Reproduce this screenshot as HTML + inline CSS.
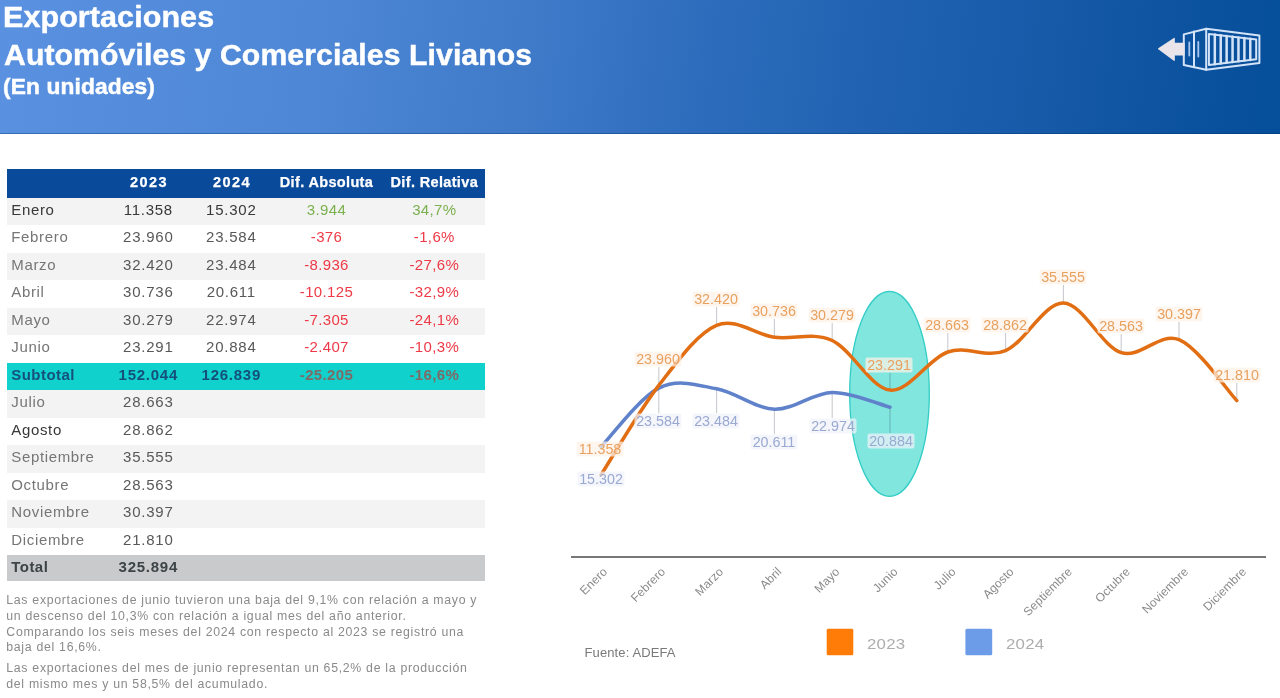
<!DOCTYPE html>
<html lang="es"><head><meta charset="utf-8"><title>Exportaciones Automóviles y Comerciales Livianos</title>
<style>
html,body{margin:0;padding:0;background:#fff}
body{width:1280px;height:698px;position:relative;overflow:hidden;font-family:"Liberation Sans",sans-serif}
.hdr{position:absolute;left:0;top:0;width:1280px;height:133.6px;background:linear-gradient(97deg,#5a91e1 0%,#4d87d5 25%,#3e7ac8 42%,#2d6cbc 55%,#2264b3 66%,#195cab 78%,#0e54a0 90%,#054e9a 100%);box-shadow:inset 0 -1px 0 rgba(0,40,100,.35)}
.t{position:absolute;left:3.2px;color:#fff;font-weight:bold;white-space:nowrap;transform-origin:0 0}
.t{-webkit-text-stroke:.45px #fff}
.t1{top:-0.5px;font-size:29px;line-height:34px;letter-spacing:.1px;transform:scaleX(1.05)}
.t2{top:38px;left:4.2px;font-size:29px;line-height:34px;letter-spacing:.1px;transform:scaleX(1.04)}
.t3{top:74px;font-size:21.5px;line-height:26px;letter-spacing:.1px;transform:scaleX(1.06)}
.r{position:absolute;left:7px;width:478px;height:27.5px;font-size:15px;line-height:23.5px;color:#585858;white-space:nowrap;letter-spacing:.35px}
.r.g{background:#f3f3f3}
.r .l{color:#767676}.r.dk .l,.r.dk.all{color:#383838}.r.sub .l,.r.tot .l{color:inherit}
.r.hd{background:#0a4a9a;color:#fff;font-weight:bold;font-size:14.5px;line-height:27.2px;-webkit-text-stroke:.25px #fff}
.r.sub{background:#10d1cb;color:#15507c;font-weight:bold}
.r.tot{background:#c9cacb;color:#3c4446;font-weight:bold;height:26.3px}
.r .l{position:absolute;left:4.3px;top:0;letter-spacing:.65px}
.sub .l,.tot .l{letter-spacing:.45px}
.r .c{position:absolute;top:0;width:120px;text-align:center}
.c1{left:81.3px;letter-spacing:.75px}.c2{left:164.3px;letter-spacing:.75px}.c3{left:259.5px}.c4{left:367.3px}
.hd .c1,.hd .c2{letter-spacing:1.4px;left:82px}.hd .c2{left:165px}
.gr{color:#7ab04e}.rd{color:#ee3a46}.rs{color:#7d6b68}
.p{position:absolute;left:6.3px;width:480px;font-size:12.3px;line-height:15.8px;color:#8a8a8a;margin:0;white-space:nowrap;letter-spacing:.7px}
svg{position:absolute;left:0;top:0}
.lb{font-size:14.3px;text-anchor:middle}
.lb.o{fill:#e9a15f}
.lb.b{fill:#9aa9d2}
.ax{font-size:12px;fill:#8a8a8a;letter-spacing:.15px}
.lead line{stroke:rgba(50,60,80,.27);stroke-width:1.1}
.src{position:absolute;left:584.5px;top:645px;font-size:13px;color:#7a7a7a;letter-spacing:.12px}
.lg{position:absolute;font-size:14px;color:#adadad;top:636px;letter-spacing:.2px;transform:scaleX(1.2);transform-origin:0 0}
</style></head><body>
<div class="hdr">
<div class="t t1">Exportaciones</div>
<div class="t t2">Automóviles y Comerciales Livianos</div>
<div class="t t3">(En unidades)</div>
<svg width="1280" height="133" viewBox="0 0 1280 133">
<g fill="none" stroke="#d3e3f8" stroke-width="2" stroke-linejoin="round" stroke-linecap="round">
<path d="M1206.2 28.8 L1259.4 35.6 L1259.4 63.1 L1206.2 69.8 L1183.8 65 L1183.8 34.4 Z"/>
<path d="M1206.2 28.8 L1206.2 69.8"/>
<path d="M1194 31.6 L1194 67.2"/>
<path d="M1208.9 33.9 L1256.2 39.5 L1256.2 59.2 L1208.9 64.9 Z"/>
<path stroke-width="2.5" d="M1214.81 34.60 L1214.81 64.19 M1220.73 35.30 L1220.73 63.48 M1226.64 36.00 L1226.64 62.76 M1232.55 36.70 L1232.55 62.05 M1238.46 37.40 L1238.46 61.34 M1244.38 38.10 L1244.38 60.62 M1250.29 38.80 L1250.29 59.91"/>
<path stroke-width="1.8" stroke="#a9c8f0" d="M1189.3 42.5 L1189.3 55.500 M1198.3 42 L1198.3 56.500"/>
</g>
<path d="M1158.6 48.800 L1174.2 38.400 L1174.2 43.300 L1184 43.300 L1184 55 L1174.2 55 L1174.2 60.300 Z" fill="#e9e5ea" stroke="#e9e5ea" stroke-width="1.2" stroke-linejoin="round"/>
</svg>
</div>
<div class="r hd" style="top:169.0px;height:28.5px"><span class="c c1">2023</span><span class="c c2">2024</span><span class="c c3">Dif. Absoluta</span><span class="c c4">Dif. Relativa</span></div>
<div class="r g dk all" style="top:197.5px"><span class="l">Enero</span><span class="c c1">11.358</span><span class="c c2">15.302</span><span class="c c3 gr">3.944</span><span class="c c4 gr">34,7%</span></div>
<div class="r" style="top:225.0px"><span class="l">Febrero</span><span class="c c1">23.960</span><span class="c c2">23.584</span><span class="c c3 rd">-376</span><span class="c c4 rd">-1,6%</span></div>
<div class="r g" style="top:252.5px"><span class="l">Marzo</span><span class="c c1">32.420</span><span class="c c2">23.484</span><span class="c c3 rd">-8.936</span><span class="c c4 rd">-27,6%</span></div>
<div class="r" style="top:280.0px"><span class="l">Abril</span><span class="c c1">30.736</span><span class="c c2">20.611</span><span class="c c3 rd">-10.125</span><span class="c c4 rd">-32,9%</span></div>
<div class="r g" style="top:307.5px"><span class="l">Mayo</span><span class="c c1">30.279</span><span class="c c2">22.974</span><span class="c c3 rd">-7.305</span><span class="c c4 rd">-24,1%</span></div>
<div class="r" style="top:335.0px"><span class="l">Junio</span><span class="c c1">23.291</span><span class="c c2">20.884</span><span class="c c3 rd">-2.407</span><span class="c c4 rd">-10,3%</span></div>
<div class="r sub" style="top:362.5px"><span class="l">Subtotal</span><span class="c c1">152.044</span><span class="c c2">126.839</span><span class="c c3 rs">-25.205</span><span class="c c4 rs">-16,6%</span></div>
<div class="r g" style="top:390.0px"><span class="l">Julio</span><span class="c c1">28.663</span></div>
<div class="r dk" style="top:417.5px"><span class="l">Agosto</span><span class="c c1">28.862</span></div>
<div class="r g" style="top:445.0px"><span class="l">Septiembre</span><span class="c c1">35.555</span></div>
<div class="r" style="top:472.5px"><span class="l">Octubre</span><span class="c c1">28.563</span></div>
<div class="r g" style="top:500.0px"><span class="l">Noviembre</span><span class="c c1">30.397</span></div>
<div class="r" style="top:527.5px"><span class="l">Diciembre</span><span class="c c1">21.810</span></div>
<div class="r tot" style="top:555.0px"><span class="l">Total</span><span class="c c1">325.894</span></div>
<p class="p" style="top:593px">Las exportaciones de junio tuvieron una baja del 9,1% con relación a mayo y<br>un descenso del 10,3% con relación a igual mes del año anterior.<br>Comparando los seis meses del 2024 con respecto al 2023 se registró una<br>baja del 16,6%.</p>
<p class="p" style="top:661px">Las exportaciones del mes de junio representan un 65,2% de la producción<br>del mismo mes y un 58,5% del acumulado.</p>
<svg width="1280" height="698" viewBox="0 0 1280 698">
<ellipse cx="889.500" cy="393.800" rx="39.800" ry="102.500" fill="#80e6de" stroke="#30cdc6" stroke-width="1.3"/>
<line x1="571" y1="557" x2="1266" y2="557" stroke="#777" stroke-width="2"/>
<g class="lead"><line x1="658.8" y1="367.0" x2="658.8" y2="385.4"/><line x1="716.6" y1="307.0" x2="716.6" y2="325.3"/><line x1="774.4" y1="319.0" x2="774.4" y2="337.3"/><line x1="832.2" y1="323.0" x2="832.2" y2="340.5"/><line x1="890.0" y1="373.0" x2="890.0" y2="390.1"/><line x1="947.8" y1="333.0" x2="947.8" y2="352.0"/><line x1="1005.6" y1="333.0" x2="1005.6" y2="350.6"/><line x1="1063.4" y1="285.0" x2="1063.4" y2="303.1"/><line x1="1121.2" y1="334.0" x2="1121.2" y2="352.7"/><line x1="1179.0" y1="322.0" x2="1179.0" y2="339.7"/><line x1="1236.8" y1="383.0" x2="1236.8" y2="400.6"/><line x1="658.8" y1="388.1" x2="658.8" y2="413.0"/><line x1="716.6" y1="388.8" x2="716.6" y2="413.0"/><line x1="774.4" y1="409.2" x2="774.4" y2="434.0"/><line x1="832.2" y1="392.4" x2="832.2" y2="418.0"/><line x1="890.0" y1="407.2" x2="890.0" y2="433.0"/></g>
<path d="M601.0 446.9 C610.6 437.1 639.5 397.7 658.8 388.1 C678.1 378.4 697.3 385.2 716.6 388.8 C735.9 392.3 755.1 408.6 774.4 409.2 C793.7 409.8 812.9 392.7 832.2 392.4 C851.5 392.1 880.4 404.8 890.0 407.2" fill="none" stroke="#6082cb" stroke-width="3.5" stroke-linecap="round"/>
<path d="M601.0 474.9 C610.6 459.9 639.5 410.3 658.8 385.4 C678.1 360.5 697.3 333.3 716.6 325.3 C735.9 317.3 755.1 334.7 774.4 337.3 C793.7 339.8 812.9 331.7 832.2 340.5 C851.5 349.3 870.7 388.2 890.0 390.1 C909.3 392.0 928.5 358.6 947.8 352.0 C967.1 345.4 986.3 358.7 1005.6 350.6 C1024.9 342.4 1044.1 302.7 1063.4 303.1 C1082.7 303.4 1101.9 346.6 1121.2 352.7 C1140.5 358.8 1159.7 331.7 1179.0 339.7 C1198.3 347.7 1227.2 390.5 1236.8 400.6" fill="none" stroke="#e26e14" stroke-width="3.5" stroke-linecap="round"/>
<g fill-opacity=".72"><rect fill="#fdf3e8" x="576.5" y="441.5" width="47" height="15" rx="2"/><rect fill="#fdf3e8" x="634.5" y="351.5" width="47" height="15" rx="2"/><rect fill="#fdf3e8" x="692.5" y="291.5" width="47" height="15" rx="2"/><rect fill="#fdf3e8" x="750.5" y="303.5" width="47" height="15" rx="2"/><rect fill="#fdf3e8" x="808.5" y="307.5" width="47" height="15" rx="2"/><rect fill="#fdf3e8" x="865.5" y="357.5" width="47" height="15" rx="2"/><rect fill="#fdf3e8" x="923.5" y="317.5" width="47" height="15" rx="2"/><rect fill="#fdf3e8" x="981.5" y="317.5" width="47" height="15" rx="2"/><rect fill="#fdf3e8" x="1039.5" y="269.5" width="47" height="15" rx="2"/><rect fill="#fdf3e8" x="1097.5" y="318.5" width="47" height="15" rx="2"/><rect fill="#fdf3e8" x="1155.5" y="306.5" width="47" height="15" rx="2"/><rect fill="#fdf3e8" x="1213.5" y="367.5" width="47" height="15" rx="2"/><rect fill="#f0f2fa" x="577.5" y="471.5" width="47" height="15" rx="2"/><rect fill="#f0f2fa" x="634.5" y="413.5" width="47" height="15" rx="2"/><rect fill="#f0f2fa" x="692.5" y="413.5" width="47" height="15" rx="2"/><rect fill="#f0f2fa" x="750.5" y="434.5" width="47" height="15" rx="2"/><rect fill="#f0f2fa" x="809.5" y="418.5" width="47" height="15" rx="2"/><rect fill="#f0f2fa" x="867.5" y="433.5" width="47" height="15" rx="2"/></g>
<text class="lb o" x="600" y="454">11.358</text>
<text class="lb o" x="658" y="364">23.960</text>
<text class="lb o" x="716" y="304">32.420</text>
<text class="lb o" x="774" y="316">30.736</text>
<text class="lb o" x="832" y="320">30.279</text>
<text class="lb o" x="889" y="370">23.291</text>
<text class="lb o" x="947" y="330">28.663</text>
<text class="lb o" x="1005" y="330">28.862</text>
<text class="lb o" x="1063" y="282">35.555</text>
<text class="lb o" x="1121" y="331">28.563</text>
<text class="lb o" x="1179" y="319">30.397</text>
<text class="lb o" x="1237" y="380">21.810</text>
<text class="lb b" x="601" y="484">15.302</text>
<text class="lb b" x="658" y="426">23.584</text>
<text class="lb b" x="716" y="426">23.484</text>
<text class="lb b" x="774" y="447">20.611</text>
<text class="lb b" x="833" y="431">22.974</text>
<text class="lb b" x="891" y="446">20.884</text>
<text class="ax" transform="translate(608.0 572.3) rotate(-45)" text-anchor="end">Enero</text>
<text class="ax" transform="translate(666.1 572.3) rotate(-45)" text-anchor="end">Febrero</text>
<text class="ax" transform="translate(724.2 572.3) rotate(-45)" text-anchor="end">Marzo</text>
<text class="ax" transform="translate(782.3 572.3) rotate(-45)" text-anchor="end">Abril</text>
<text class="ax" transform="translate(840.4 572.3) rotate(-45)" text-anchor="end">Mayo</text>
<text class="ax" transform="translate(898.5 572.3) rotate(-45)" text-anchor="end">Junio</text>
<text class="ax" transform="translate(956.6 572.3) rotate(-45)" text-anchor="end">Julio</text>
<text class="ax" transform="translate(1014.7 572.3) rotate(-45)" text-anchor="end">Agosto</text>
<text class="ax" transform="translate(1072.8 572.3) rotate(-45)" text-anchor="end">Septiembre</text>
<text class="ax" transform="translate(1130.9 572.3) rotate(-45)" text-anchor="end">Octubre</text>
<text class="ax" transform="translate(1189.0 572.3) rotate(-45)" text-anchor="end">Noviembre</text>
<text class="ax" transform="translate(1247.1 572.3) rotate(-45)" text-anchor="end">Diciembre</text>
<rect x="826.7" y="628.800" width="26.6" height="26.4" rx="1.5" fill="#ff7c08"/>
<rect x="965.4" y="628.800" width="26.8" height="26.4" rx="1.5" fill="#6c9be8"/>
</svg>
<div class="src">Fuente: ADEFA</div>
<div class="lg" style="left:867.3px">2023</div>
<div class="lg" style="left:1005.6px">2024</div>
</body></html>
